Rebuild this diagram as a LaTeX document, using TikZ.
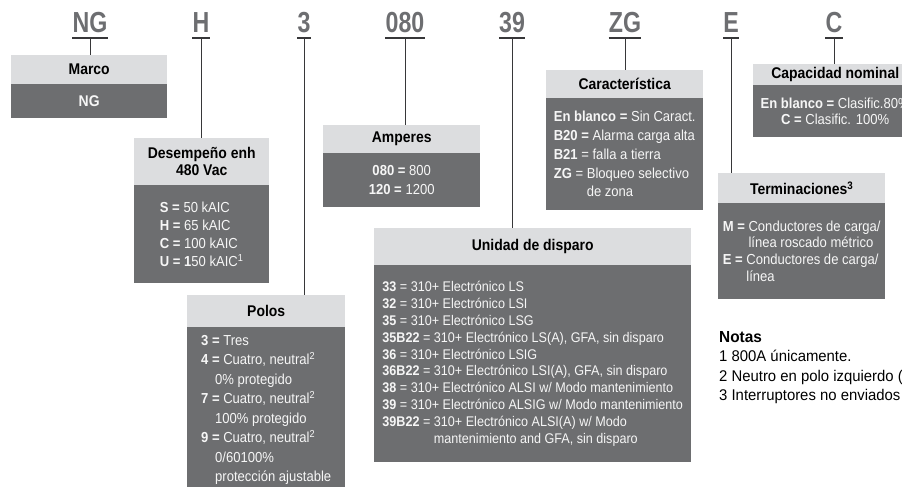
\documentclass[tikz,border=0pt]{standalone}
\usepackage{fontspec}
\setmainfont{Liberation Sans}[FakeStretch=0.9]
\newfontfamily\codefont{Liberation Sans}[FakeStretch=0.8]
\newfontfamily\notefont{Liberation Sans}[FakeStretch=0.96]
\usepackage{tikz}
\usepackage{xcolor}
\definecolor{codegray}{RGB}{109,110,113}
\definecolor{hdrgray}{RGB}{220,221,223}
\definecolor{bodygray}{RGB}{109,110,112}
\definecolor{linegray}{RGB}{55,55,57}
\definecolor{bodytext}{RGB}{246,246,246}
\tikzset{
  codeletter/.style={font=\codefont\bfseries\fontsize{29}{29}\selectfont,text=codegray,
    inner xsep=0pt,inner ysep=5pt,text depth=0pt,anchor=south},
  bar/.style={line width=1.8pt,draw=linegray},
  conn/.style={line width=1pt,draw=linegray},
  hdr/.style={fill=hdrgray,text=black,font=\bfseries\fontsize{15.5}{17}\selectfont,
    align=center,inner sep=0pt,anchor=north west},
  bodybox/.style={fill=bodygray,text=bodytext,font=\fontsize{14.5}{#1}\selectfont,
    inner sep=0pt,anchor=north west},
  bodybox/.default=18
}

\begin{document}
\begin{tikzpicture}[x=1pt,y=-1pt]
  \useasboundingbox (0,0) rectangle (902,487);
  \clip (0,0) rectangle (902,487);

  % codes along the top
  \node[codeletter] (ng) at (90,38) {NG};
  \node[codeletter] (h) at (201,38) {H};
  \node[codeletter] (tres) at (304,38) {3};
  \node[codeletter] (amp) at (405,38) {080};
  \node[codeletter] (disp) at (512,38) {39};
  \node[codeletter] (zg) at (625,38) {ZG};
  \node[codeletter] (e) at (731,38) {E};
  \node[codeletter] (c) at (834,38) {C};

  % Marco
  \node[hdr,minimum width=156,minimum height=29] (marcoh) at (11,55) {Marco};
  \node[hdr,fill=bodygray,text=bodytext,minimum width=156,minimum height=34] (marcob) at (11,84) {NG};

  % Desempeno
  \node[hdr,minimum width=135,minimum height=47] (desh) at (134,138) {Desempeño enh\\480 Vac};
  \node[bodybox,align=left,minimum width=135,minimum height=98] (desb) at (134,185)
    {\textbf{S =} 50 kAIC\\\textbf{H =} 65 kAIC\\\textbf{C =} 100 kAIC\\\textbf{U = 1}50 kAIC\textsuperscript{1}};

  % Polos
  \node[hdr,minimum width=158,minimum height=32] (polh) at (187,295) {Polos};
  \node[bodybox=19.5,align=left,minimum width=158,minimum height=165] (polb) at (187,327)
    {\textbf{3 =} Tres\\
     \textbf{4 =} Cuatro, neutral\textsuperscript{2}\\
     \hspace*{14pt}0\% protegido\\
     \textbf{7 =} Cuatro, neutral\textsuperscript{2}\\
     \hspace*{14pt}100\% protegido\\
     \textbf{9 =} Cuatro, neutral\textsuperscript{2}\\
     \hspace*{14pt}0/60100\%\\
     \hspace*{14pt}protección ajustable};
  \fill[bodygray] (polb.south west) rectangle (polb.east |- 0,492);

  % Amperes
  \node[hdr,minimum width=157,minimum height=28] (amph) at (323,125) {Amperes};
  \node[bodybox=19,align=center,minimum width=157,minimum height=54] (ampb) at (323,153)
    {\textbf{080 =} 800\\\textbf{120 =} 1200};

  % Unidad de disparo
  \node[hdr,minimum width=317,minimum height=37] (disph) at (374,228) {Unidad de disparo};
  \node[bodybox=16.8,font=\fontsize{14}{16.8}\selectfont,align=left,minimum width=317,minimum height=197] (dispb) at (374,265)
    {\textbf{33} = 310+ Electrónico LS\\
     \textbf{32} = 310+ Electrónico LSI\\
     \textbf{35} = 310+ Electrónico LSG\\
     \textbf{35B22} = 310+ Electrónico LS(A), GFA, sin disparo\\
     \textbf{36} = 310+ Electrónico LSIG\\
     \textbf{36B22} = 310+ Electrónico LSI(A), GFA, sin disparo\\
     \textbf{38} = 310+ Electrónico ALSI w/ Modo mantenimiento\\
     \textbf{39} = 310+ Electrónico ALSIG w/ Modo mantenimiento\\
     \textbf{39B22} = 310+ Electrónico ALSI(A) w/ Modo\\
     \phantom{\textbf{39B22} = }mantenimiento and GFA, sin disparo};

  % Caracteristica
  \node[hdr,minimum width=157,minimum height=28] (zgh) at (546,70) {Característica};
  \node[bodybox=18.7,align=left,minimum width=157,minimum height=112] (zgb) at (546,98)
    {\textbf{En blanco =} Sin Caract.\\
     \textbf{B20 =} Alarma carga alta\\
     \textbf{B21} = falla a tierra\\
     \textbf{ZG} = Bloqueo selectivo\\
     \phantom{\textbf{ZG} = }de zona};

  % Terminaciones
  \node[hdr,minimum width=167,minimum height=30] (eh) at (718,173) {Terminaciones\textsuperscript{3}};
  \node[bodybox=16.8,align=left,minimum width=167,minimum height=96] (eb) at (718,203)
    {\textbf{M =} Conductores de carga/\\
     \phantom{\textbf{M =} }línea roscado métrico\\
     \textbf{E =} Conductores de carga/\\
     \phantom{\textbf{E =} }línea};

  % Capacidad nominal
  \node[hdr,minimum width=164,minimum height=21] (ch) at (753,64) {Capacidad nominal};
  \node[bodybox=16.5,align=center,minimum width=164,minimum height=52] (cb) at (753,85)
    {\textbf{En blanco =} Clasific.80\%\\\textbf{C =} Clasific. 100\%};

  % notes
  \node[anchor=north west,align=left,inner sep=0pt,font=\notefont\fontsize{15.5}{19.5}\selectfont] (notas) at (719,331)
    {{\bfseries\fontsize{16}{16}\selectfont Notas}\\
     1 800A únicamente.\\
     2 Neutro en polo izquierdo (\\
     3 Interruptores no enviados};

  % bars and connectors
  \foreach \c/\b in {ng/marcoh,h/desh,tres/polh,amp/amph,disp/disph,zg/zgh,e/eh,c/ch}{
    \draw[bar] (\c.south west) -- (\c.south east);
    \draw[conn] (\c.south) -- (\c.south |- \b.north);
  }
\end{tikzpicture}
\end{document}
